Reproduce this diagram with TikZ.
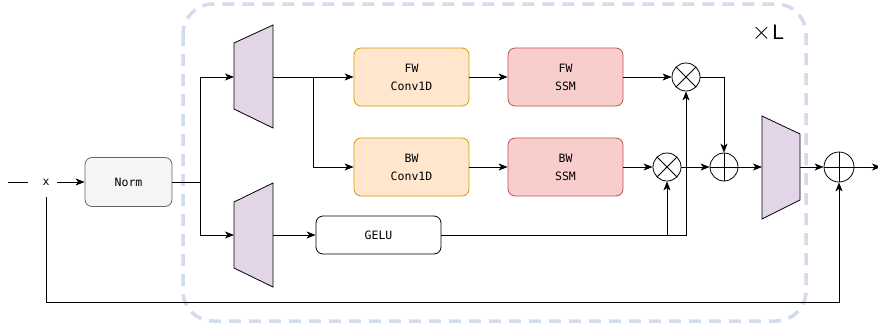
\documentclass[tikz,border=0pt]{standalone}
\usepackage{fontspec}
\setmonofont{DejaVu Sans Mono}
\setsansfont{Liberation Sans}
\usetikzlibrary{arrows.meta,calc}
\definecolor{dashc}{HTML}{D3DCEA}
\definecolor{normf}{HTML}{F5F5F5}
\definecolor{norms}{HTML}{666666}
\definecolor{convf}{HTML}{FFE6CC}
\definecolor{convs}{HTML}{D79B00}
\definecolor{ssmf}{HTML}{F8CECC}
\definecolor{ssms}{HTML}{B85450}
\definecolor{trapf}{HTML}{E1D5E7}
\begin{document}
\begin{tikzpicture}[x=1pt,y=-1pt,
  blk/.style={draw, rounded corners=7pt, minimum width=115pt, minimum height=58pt, align=center,
    font=\ttfamily\fontsize{11.5}{18}\selectfont, inner sep=0pt, line width=0.8pt},
  arr/.style={-{Stealth[length=9pt,width=7pt,inset=2.5pt]}, line width=0.8pt},
  ln/.style={line width=0.8pt},
  opc/.style={draw, circle, minimum size=28pt, inner sep=0pt, line width=0.8pt},
  trap/.style={draw, fill=trapf, line width=0.8pt}
]
\useasboundingbox (0,0) rectangle (878,327);
% dashed repeat box
\draw[dashc, line width=3.5pt, dash pattern=on 12pt off 8pt, rounded corners=30pt] (183,4) rectangle (806,321);
\node[inner sep=0pt] (xl) at (768,33) {\fontsize{26}{26}\selectfont$\times$\hspace{1pt}\sffamily\fontsize{21}{21}\selectfont L};

% nodes
\node[font=\ttfamily\fontsize{11.5}{12}\selectfont, inner sep=1pt] (xin) at (46,182) {x};
\node[blk, fill=normf, draw=norms, minimum width=87pt, minimum height=49pt] (norm) at (128.5,182) {Norm};
\node[blk, fill=convf, draw=convs] (fwc) at (411.5,77) {FW\\Conv1D};
\node[blk, fill=convf, draw=convs] (bwc) at (411.5,167) {BW\\Conv1D};
\node[blk, fill=ssmf, draw=ssms] (fws) at (565.5,77) {FW\\SSM};
\node[blk, fill=ssmf, draw=ssms] (bws) at (565.5,167) {BW\\SSM};
\node[blk, fill=white, draw=black, minimum width=125pt, minimum height=38pt] (gelu) at (378.5,235) {GELU};

\node[opc] (o1) at (686,77) {};
\node[opc] (o2) at (667,167) {};
\node[opc] (p1) at (724,167) {};
\node[opc, minimum size=30pt] (p2) at (839,167) {};
\draw[ln] (o1.45) -- (o1.225) (o1.135) -- (o1.315);
\draw[ln] (o2.45) -- (o2.225) (o2.135) -- (o2.315);
\draw[ln] (p1.north) -- (p1.south) (p1.west) -- (p1.east);
\draw[ln] (p2.north) -- (p2.south) (p2.west) -- (p2.east);

% trapezoids
\draw[trap] (234,43) -- (273,25) -- (273,128) -- (234,109) -- cycle;
\coordinate (t1in) at (234,77);
\coordinate (t1out) at (273,77);
\draw[trap] (234,202) -- (273,183) -- (273,287) -- (234,268) -- cycle;
\coordinate (t2in) at (234,235);
\coordinate (t2out) at (273,235);
\draw[trap] (762,116) -- (800,134) -- (800,200) -- (762,219) -- cycle;
\coordinate (t3in) at (762,167);
\coordinate (t3out) at (800,167);

% helper coordinates
\coordinate (lstart) at (8,182);
\coordinate (lend) at (28,182);
\coordinate (xr) at (57,182);
\coordinate (split) at (200,182);
\coordinate (splitT) at (200,77);
\coordinate (splitB) at (200,235);
\coordinate (br) at (313,77);
\coordinate (brB) at (313,167);
\coordinate (g1) at (686,235);
\coordinate (g2) at (667,235);
\coordinate (m1) at (724,77);
\coordinate (res0) at (46,197);
\coordinate (res1) at (46,302);
\coordinate (res2) at (839,302);
\coordinate (outp) at (881,167);

% connectors
\draw[ln] (lstart) -- (lend);
\draw[arr] (xr) -- (norm.west);
\draw[ln] (norm.east) -- (split);
\draw[ln] (splitT) -- (splitB);
\draw[arr] (splitT) -- (t1in);
\draw[arr] (splitB) -- (t2in);
\draw[arr] (t1out) -- (fwc.west);
\draw[arr] (br) -- (brB) -- (bwc.west);
\draw[arr] (fwc.east) -- (fws.west);
\draw[arr] (bwc.east) -- (bws.west);
\draw[arr] (fws.east) -- (o1.west);
\draw[arr] (bws.east) -- (o2.west);
\draw[arr] (o1.east) -- (m1) -- (p1.north);
\draw[arr] (o2.east) -- (p1.west);
\draw[arr] (t2out) -- (gelu.west);
\draw[arr] (gelu.east) -- (g1) -- (o1.south);
\draw[arr] (g2) -- (o2.south);
\draw[arr] (p1.east) -- (t3in);
\draw[arr] (t3out) -- (p2.west);
\draw[arr] (p2.east) -- (outp);
\draw[arr] (res0) -- (res1) -- (res2) -- (p2.south);
\end{tikzpicture}
\end{document}
